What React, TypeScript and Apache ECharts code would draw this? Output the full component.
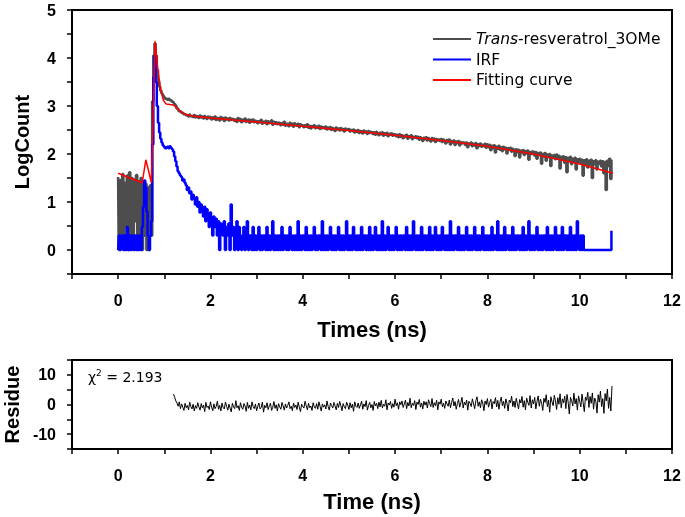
import React, { useEffect, useRef } from "react";
import * as echarts from "echarts";

// Channel width of the decay traces (ns)
const DT = 0.025;
const RES_T0 = 1.2;

// Trans-resveratrol_3OMe decay (LogCount), t = 0.000 ... 10.700 ns
const sampleLog = [
  1.52, 0.00, 1.45, 0.30, 1.58, 0.00, 1.40, 0.48, 1.55, 0.00,
  1.62, 0.30, 1.50, 0.00, 1.47, 0.60, 1.56, 0.00, 1.43, 0.30,
  1.50, 0.00, 1.42, 0.30, 1.38, 0.00, 1.30, 0.00, 1.35, 0.30,
  3.10, 4.05, 4.30, 4.05, 3.75, 3.52, 3.40, 3.32, 3.26, 3.22,
  3.18, 3.15, 3.16, 3.13, 3.15, 3.12, 3.13, 3.09, 3.08, 3.04,
  3.01, 2.95, 2.94, 2.89, 2.89, 2.86, 2.86, 2.83, 2.84, 2.81,
  2.81, 2.78, 2.82, 2.79, 2.80, 2.77, 2.81, 2.76, 2.79, 2.78,
  2.75, 2.80, 2.76, 2.78, 2.74, 2.79, 2.76, 2.73, 2.78, 2.75,
  2.77, 2.72, 2.76, 2.73, 2.78, 2.71, 2.75, 2.74, 2.70, 2.77,
  2.73, 2.75, 2.69, 2.76, 2.72, 2.74, 2.70, 2.75, 2.71, 2.73,
  2.74, 2.69, 2.72, 2.67, 2.75, 2.70, 2.73, 2.66, 2.71, 2.69,
  2.74, 2.67, 2.70, 2.72, 2.65, 2.71, 2.68, 2.72, 2.66, 2.69,
  2.70, 2.64, 2.68, 2.66, 2.71, 2.63, 2.67, 2.65, 2.69, 2.62,
  2.68, 2.64, 2.66, 2.70, 2.61, 2.67, 2.63, 2.66, 2.62, 2.65,
  2.66, 2.60, 2.64, 2.61, 2.67, 2.59, 2.63, 2.62, 2.58, 2.65,
  2.60, 2.63, 2.57, 2.64, 2.61, 2.59, 2.63, 2.56, 2.62, 2.60,
  2.61, 2.56, 2.60, 2.57, 2.62, 2.55, 2.59, 2.53, 2.58, 2.56,
  2.60, 2.54, 2.57, 2.55, 2.59, 2.52, 2.57, 2.54, 2.56, 2.53,
  2.57, 2.51, 2.55, 2.52, 2.56, 2.50, 2.54, 2.52, 2.48, 2.55,
  2.51, 2.53, 2.49, 2.54, 2.50, 2.52, 2.47, 2.53, 2.50, 2.51,
  2.52, 2.47, 2.50, 2.48, 2.51, 2.45, 2.49, 2.46, 2.50, 2.44,
  2.48, 2.47, 2.43, 2.49, 2.45, 2.47, 2.42, 2.48, 2.44, 2.46,
  2.47, 2.42, 2.45, 2.40, 2.46, 2.43, 2.39, 2.44, 2.41, 2.45,
  2.38, 2.43, 2.40, 2.44, 2.37, 2.42, 2.40, 2.43, 2.38, 2.41,
  2.42, 2.37, 2.40, 2.35, 2.41, 2.36, 2.39, 2.33, 2.38, 2.36,
  2.40, 2.32, 2.37, 2.35, 2.39, 2.31, 2.36, 2.34, 2.37, 2.33,
  2.36, 2.30, 2.35, 2.32, 2.27, 2.34, 2.31, 2.35, 2.28, 2.33,
  2.30, 2.26, 2.33, 2.29, 2.32, 2.25, 2.31, 2.28, 2.30, 2.27,
  2.31, 2.25, 2.30, 2.27, 2.22, 2.29, 2.26, 2.30, 2.20, 2.27,
  2.24, 2.28, 2.19, 2.26, 2.23, 2.27, 2.18, 2.25, 2.22, 2.24,
  2.25, 2.19, 2.24, 2.14, 2.22, 2.20, 2.24, 2.16, 2.21, 2.18,
  2.23, 2.12, 2.20, 2.17, 2.22, 2.15, 2.19, 2.16, 2.21, 2.13,
  2.20, 2.14, 2.19, 2.08, 2.17, 2.12, 2.18, 2.03, 2.15, 2.11,
  2.17, 2.09, 2.14, 2.06, 2.15, 2.10, 2.13, 2.01, 2.12, 2.09,
  2.13, 2.05, 2.11, 2.07, 1.96, 2.10, 2.04, 2.09, 1.93, 2.07,
  2.03, 2.08, 1.98, 2.06, 2.01, 2.07, 1.88, 2.04, 2.00, 2.05,
  2.06, 1.97, 2.04, 1.90, 2.02, 1.98, 2.03, 1.80, 2.00, 1.95,
  2.02, 1.86, 1.99, 1.94, 2.00, 1.75, 1.97, 1.93, 1.98, 1.89,
  1.99, 1.90, 1.96, 1.70, 1.94, 1.88, 1.95, 1.82, 1.93, 1.62,
  1.92, 1.86, 1.94, 1.79, 1.90, 1.85, 1.92, 1.68, 1.89, 1.84,
  1.90, 1.81, 1.88, 1.55, 1.87, 1.80, 1.89, 1.72, 1.86, 1.78,
  1.88, 1.50, 1.85, 1.79, 1.87, 1.68, 1.84, 1.80, 1.86, 1.74,
  1.85, 1.60, 1.83, 1.25, 1.86, 1.75, 1.90, 1.48, 1.88,
];

// IRF (LogCount), t = 0.000 ... 10.700 ns
const irfLog = [
  0, 0.30, 0, 0.30, 0.30, 0, 0.30, 0, 0.48, 0,
  0.30, 0, 0.30, 0.30, 0, 0.30, 0, 0.30, 0, 0.30,
  0, 0.48, 0.90, 1.45, 1.30, 0.80, 0.30, 0, 0.30, 0.60,
  2.20, 3.60, 4.05, 3.50, 3.00, 2.65, 2.45, 2.32, 2.24, 2.18,
  2.15, 2.12, 2.13, 2.15, 2.12, 2.16, 2.13, 2.10, 2.05, 1.95,
  1.85, 1.74, 1.64, 1.60, 1.55, 1.52, 1.45, 1.47, 1.40, 1.35,
  1.25, 1.30, 1.18, 1.22, 1.05, 1.15, 1.08, 0.95, 1.10, 0.90,
  1.00, 0.78, 0.95, 0.85, 0.70, 0.90, 0.60, 0.85, 0.72, 0.48,
  0.78, 0.60, 0.30, 0.70, 0.48, 0.65, 0.30, 0.60, 0, 0.55,
  0.48, 0.30, 0.60, 0, 0.48, 0.30, 0.55, 0, 0.95, 0.30,
  0.48, 0, 0.30, 0.60, 0, 0.48, 0.30, 0, 0.30, 0.48,
  0, 0.30, 0.60, 0, 0.30, 0.30, 0, 0.48, 0, 0.30,
  0, 0.30, 0.48, 0, 0.30, 0, 0.30, 0.30, 0, 0.48,
  0, 0.30, 0, 0.30, 0.60, 0, 0.30, 0, 0.30, 0,
  0.30, 0, 0.48, 0, 0.30, 0.30, 0, 0.30, 0, 0.48,
  0.30, 0, 0.30, 0, 0.30, 0, 0.60, 0, 0.30, 0,
  0.30, 0.30, 0, 0.48, 0, 0.30, 0, 0.30, 0, 0.30,
  0.48, 0, 0.30, 0, 0.30, 0.30, 0, 0.60, 0, 0.30,
  0, 0.30, 0, 0.30, 0.48, 0, 0.30, 0, 0.30, 0,
  0.30, 0.48, 0, 0.30, 0, 0.30, 0, 0.30, 0.60, 0,
  0.30, 0, 0.30, 0, 0.48, 0.30, 0, 0.30, 0, 0.30,
  0, 0.48, 0, 0.30, 0.30, 0, 0.30, 0, 0.48, 0,
  0.30, 0, 0.30, 0.48, 0, 0.30, 0, 0.30, 0, 0.60,
  0, 0.30, 0, 0.30, 0.48, 0, 0.30, 0, 0.30, 0,
  0.30, 0.48, 0, 0.30, 0, 0.30, 0, 0.30, 0.30, 0,
  0.48, 0, 0.30, 0, 0.30, 0, 0.60, 0.30, 0, 0.30,
  0, 0.30, 0, 0.48, 0, 0.30, 0.30, 0, 0.30, 0,
  0.48, 0, 0.30, 0, 0.30, 0.48, 0, 0.30, 0, 0.30,
  0, 0.48, 0.30, 0, 0.30, 0, 0.30, 0, 0.60, 0,
  0.30, 0, 0.30, 0.30, 0, 0.48, 0, 0.30, 0, 0.30,
  0, 0.30, 0.48, 0, 0.30, 0, 0.30, 0, 0.30, 0.48,
  0, 0.30, 0, 0.30, 0, 0.30, 0.48, 0, 0.30, 0,
  0.30, 0, 0.30, 0, 0.48, 0, 0.30, 0.30, 0, 0.60,
  0, 0.30, 0, 0.30, 0, 0.48, 0, 0.30, 0.30, 0,
  0.30, 0, 0.48, 0, 0.30, 0, 0.30, 0.30, 0, 0.30,
  0, 0.48, 0, 0.30, 0, 0.30, 0.60, 0, 0.30, 0,
  0.30, 0, 0.30, 0.48, 0, 0.30, 0, 0.30, 0, 0.30,
  0.30, 0, 0.48, 0, 0.30, 0, 0.30, 0, 0.30, 0.48,
  0, 0.30, 0, 0.30, 0, 0.48, 0, 0.30, 0.30, 0,
  0.30, 0, 0.48, 0, 0.30, 0, 0.30, 0, 0.60, 0.30,
  0, 0.30, 0, 0.30, 0, 0, 0, 0, 0, 0,
  0, 0, 0, 0, 0, 0, 0, 0, 0, 0,
  0, 0, 0, 0, 0, 0, 0, 0, 0.40,
];

// Fitting curve, read at its knots
const fitTimes = [0, 0.52, 0.6, 0.72, 0.8, 0.86, 0.92, 0.98, 1.04, 1.12, 1.2, 1.28, 1.36, 1.45, 1.6, 1.8, 2, 3, 4, 5, 6, 7, 8, 9, 10, 10.72];
const fitLog = [1.6, 1.4, 1.88, 1.4, 4.35, 3.75, 3.35, 3.12, 3.04, 3.03, 3.02, 2.95, 2.88, 2.83, 2.79, 2.77, 2.75, 2.665, 2.58, 2.49, 2.39, 2.28, 2.16, 2.0, 1.79, 1.6];

// Weighted residuals, t = 1.200 ... 10.700 ns
const residue = [
  3.5, 2.4, 1.2, 0.5, -0.6, 0.9, -1.4, 0.2, -0.9, -2.0,
  0.4, -1.1, -0.3, -1.8, 0.8, -0.7, -1.5, 0.1, -2.2, -0.4,
  -1.3, 0.6, -0.8, -1.9, 0.3, -1.2, -0.2, -2.4, 0.7, -1.0,
  -0.5, -1.7, 0.9, -0.9, -2.1, 0.2, -1.4, -0.6, 1.1, -1.6,
  -0.3, -2.2, 0.5, -1.0, -1.5, 0.8, -0.6, -1.9, 0.1, -1.2,
  -2.5, 0.4, -0.8, -1.4, 1.3, -1.1, -0.4, -2.0, 0.6, -0.9,
  -1.6, 0.3, -0.5, -2.3, 0.7, -1.3, -0.2, -1.8, 0.9, -0.7,
  -1.4, 0.2, -2.1, -0.6, 0.5, -1.5, -1.0, 0.8, -2.6, -0.3,
  -1.1, 0.6, -1.7, -0.4, 0.4, -2.0, -0.9, 1.0, -1.3, -0.1,
  -2.2, 0.3, -0.8, -1.6, 0.7, -0.5, -1.9, 0.2, -1.2, -0.3,
  0.9, -1.4, -0.6, -2.1, 0.5, -1.0, -0.2, -1.7, 0.8, -0.9,
  -2.4, 0.1, -0.7, -1.2, 1.1, -0.4, -1.8, 0.4, -1.1, -0.5,
  -2.0, 0.6, -0.8, -1.3, 0.3, -1.6, 0.9, -0.6, -2.2, 0.2,
  -0.9, -0.1, -1.5, 1.2, -0.7, -1.9, 0.5, -0.3, -1.2, 0.7,
  -0.5, -1.8, 0.4, -1.0, 1.0, -0.4, -2.1, 0.3, -0.8, -1.4,
  0.8, -0.2, -1.7, 0.6, -1.1, 0.1, -2.3, 0.9, -0.6, -1.0,
  0.5, -1.3, -0.1, 1.1, -1.6, 0.2, -0.7, 1.3, -1.9, -0.3,
  0.7, -1.1, 0.0, -2.0, 1.0, -0.5, 0.4, -1.4, 0.8, -0.8,
  1.4, -1.2, 0.1, -0.6, 1.6, -1.8, 0.5, -0.2, 1.0, -1.3,
  0.3, -0.9, 1.8, -0.4, 0.6, -1.6, 0.9, -0.1, 1.2, -1.0,
  0.2, 1.5, -1.4, 0.7, -0.5, 2.1, -1.1, 0.4, -0.3, 1.3,
  -1.7, 0.8, 0.0, 1.7, -0.9, 0.5, -1.5, 1.1, -0.2, 0.9,
  -1.2, 1.6, 0.3, -0.7, 2.0, -1.0, 0.6, -0.4, 1.4, -1.8,
  0.9, 0.1, 1.8, -0.8, 0.4, -1.3, 1.2, 0.2, -0.6, 1.5,
  -1.1, 0.7, 2.2, -0.5, 1.0, -1.6, 0.3, 1.7, -0.9, 0.6,
  2.4, -1.2, 0.8, -0.2, 1.5, -1.9, 1.1, 0.4, -0.7, 1.9,
  0.2, -1.4, 1.3, 2.6, -0.6, 0.9, -1.1, 1.6, 0.5, -2.1,
  1.2, 0.0, 2.0, -0.9, 0.7, 1.8, -1.5, 1.0, 0.3, 2.3,
  -0.8, 1.4, -1.6, 0.9, 2.5, -0.4, 1.1, -1.3, 1.9, 0.4,
  -2.2, 1.5, 0.6, 2.8, -0.7, 1.2, -1.0, 2.1, 0.3, -1.5,
  1.7, 0.5, 2.7, -0.9, 1.3, -1.8, 2.2, 0.8, -0.3, 3.0,
  -1.2, 1.6, 0.2, 2.4, -1.5, 1.0, 2.9, -0.6, 1.8, 0.4,
  -2.0, 2.1, 0.7, 3.3, -0.8, 1.5, -2.6, 2.6, 0.9, -0.4,
  3.1, 1.2, -1.7, 2.3, 0.1, 3.6, -1.1, 1.9, 0.6, 2.8,
  -1.4, 3.4, 0.8, -3.2, 2.4, 1.3, -0.5, 3.8, 0.2, 2.0,
  -1.9, 2.9, 1.0, -0.8, 3.5, 0.6, -2.4, 2.5, 1.4, 4.1,
  -1.0, 2.7, 0.4, 3.9, -1.6, 2.2, 1.1, -2.9, 3.3, 0.8,
  4.5, -0.7, 2.0, -3.0, 3.7, 1.2, 5.2, -1.3, 2.4, -2.2,
  6.2,
];

const seriesNames = ["Trans-resveratrol_3OMe", "IRF", "Fitting curve"];
const chiText = "2.193";

const FONT = 'Arial, "Liberation Sans", sans-serif';
const LEGEND_FONT = '"DejaVu Sans", sans-serif';

export default function App() {
  const ref = useRef<HTMLDivElement>(null);
  useEffect(() => {
    if (!ref.current) return;
    const chart = echarts.init(ref.current, undefined, { renderer: "svg" });
    const tSample = sampleLog.map((_, i) => +(i * DT).toFixed(3));
    const tIrf = irfLog.map((_, i) => +(i * DT).toFixed(3));
    const tRes = residue.map((_, i) => +(RES_T0 + i * DT).toFixed(3));

    const tickLabel = {
      fontFamily: FONT,
      fontWeight: "bold",
      fontSize: 16,
      color: "#000",
    };
    const nameStyle = { fontFamily: FONT, fontWeight: "bold", color: "#000" };
    const axisLine = { show: true, onZero: false, lineStyle: { color: "#000", width: 2 } };
    const axisTick = { show: true, length: 5, lineStyle: { color: "#000", width: 1.5 } };

    const xAxisBase = (gridIndex: number, name: string, nameGap: number) => ({
      type: "value",
      gridIndex,
      min: -1,
      max: 12,
      interval: 1,
      name,
      nameLocation: "middle",
      nameGap,
      nameTextStyle: { ...nameStyle, fontSize: 22 },
      axisLine,
      axisTick,
      axisLabel: {
        ...tickLabel,
        formatter: (v: number) => (Math.round(v) % 2 === 0 ? String(Math.round(v)) : ""),
        margin: 18,
      },
      splitLine: { show: false },
    });

    chart.setOption({
      animation: false,
      textStyle: { fontFamily: FONT },
      grid: [
        { left: 72, right: 13, top: 10, height: 264, show: true, borderColor: "#000", borderWidth: 2, outerBoundsMode: "none", containLabel: false },
        { left: 72, right: 13, top: 360, height: 89, show: true, borderColor: "#000", borderWidth: 2, outerBoundsMode: "none", containLabel: false },
      ],
      xAxis: [xAxisBase(0, "Times (ns)", 44), xAxisBase(1, "Time (ns)", 41)],
      yAxis: [
        {
          type: "value",
          gridIndex: 0,
          min: -0.5,
          max: 5,
          interval: 0.5,
          name: "LogCount",
          nameLocation: "middle",
          nameGap: 40,
          nameTextStyle: { ...nameStyle, fontSize: 20 },
          axisLine,
          axisTick,
          axisLabel: {
            ...tickLabel,
            formatter: (v: number) => (Math.abs(v - Math.round(v)) < 1e-6 ? String(Math.round(v)) : ""),
            margin: 16,
          },
          splitLine: { show: false },
        },
        {
          type: "value",
          gridIndex: 1,
          min: -15,
          max: 15,
          interval: 5,
          name: "Residue",
          nameLocation: "middle",
          nameGap: 46,
          nameTextStyle: { ...nameStyle, fontSize: 20 },
          axisLine,
          axisTick,
          axisLabel: {
            ...tickLabel,
            formatter: (v: number) => (v === 0 || Math.abs(v) === 10 ? String(v) : ""),
            margin: 16,
          },
          splitLine: { show: false },
        },
      ],
      legend: {
        left: 428,
        top: 26,
        orient: "vertical",
        icon: "rect",
        itemWidth: 38,
        itemHeight: 2,
        itemGap: 4.5,
        data: seriesNames,
        formatter: (name: string) =>
          name.startsWith("Trans-") ? "{i|Trans}{n|" + name.slice(5) + "}" : "{n|" + name + "}",
        textStyle: {
          fontFamily: LEGEND_FONT,
          fontSize: 15.5,
          color: "#000",
          rich: {
            i: { fontFamily: LEGEND_FONT, fontSize: 15.5, fontStyle: "italic", color: "#000" },
            n: { fontFamily: LEGEND_FONT, fontSize: 15.5, color: "#000" },
          },
        },
      },
      graphic: [
        {
          type: "text",
          left: 88,
          top: 368,
          style: {
            text: "{a|χ}{s|2}{a| = " + chiText + "}",
            rich: {
              a: { fontFamily: LEGEND_FONT, fontSize: 14, color: "#000", lineHeight: 18 },
              s: { fontFamily: LEGEND_FONT, fontSize: 9, color: "#000", verticalAlign: "top", lineHeight: 18, padding: [0, 0, 8, 0] },
            },
          },
        },
      ],
      series: [
        {
          name: seriesNames[0],
          type: "line",
          xAxisIndex: 0,
          yAxisIndex: 0,
          step: "middle",
          showSymbol: false,
          symbol: "none",
          data: sampleLog.map((v, i) => [tSample[i], v]),
          lineStyle: { color: "#4d4d4d", width: 2.6 },
          itemStyle: { color: "#4d4d4d" },
          z: 2,
        },
        {
          name: seriesNames[1],
          type: "line",
          xAxisIndex: 0,
          yAxisIndex: 0,
          step: "middle",
          showSymbol: false,
          symbol: "none",
          data: irfLog.map((v, i) => [tIrf[i], v]),
          lineStyle: { color: "#0000ff", width: 2.5 },
          itemStyle: { color: "#0000ff" },
          z: 3,
        },
        {
          name: seriesNames[2],
          type: "line",
          xAxisIndex: 0,
          yAxisIndex: 0,
          showSymbol: false,
          symbol: "none",
          data: fitLog.map((v, i) => [fitTimes[i], v]),
          lineStyle: { color: "#ff0000", width: 1.5 },
          itemStyle: { color: "#ff0000" },
          z: 4,
        },
        {
          name: "Residue",
          type: "line",
          xAxisIndex: 1,
          yAxisIndex: 1,
          showSymbol: false,
          symbol: "none",
          data: residue.map((v, i) => [tRes[i], v]),
          lineStyle: { color: "#000", width: 1 },
          itemStyle: { color: "#000" },
        },
      ],
    });
    return () => chart.dispose();
  }, []);
  return <div ref={ref} style={{ position: "fixed", left: 0, top: 0, width: 685, height: 517 }} />;
}
